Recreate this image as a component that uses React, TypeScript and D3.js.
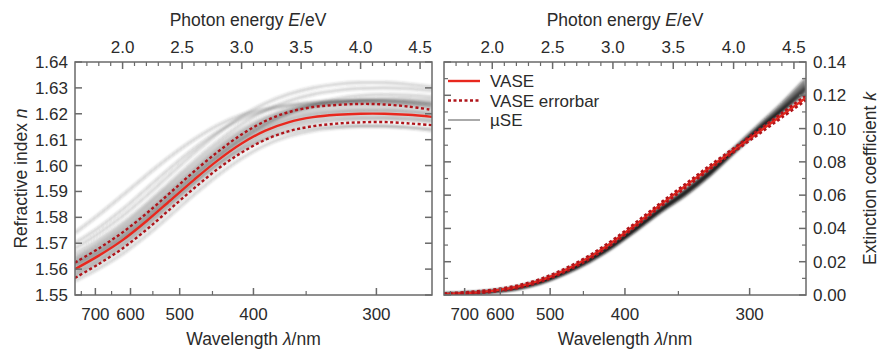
import * as d3 from "d3";

// photon energy grid (eV) shared by every curve
const energy = [1.6, 1.8, 2.0, 2.2, 2.4, 2.6, 2.8, 3.0, 3.2, 3.4, 3.6, 3.8, 4.0, 4.2, 4.4, 4.6];

// refractive index n
const nVase = [1.5600, 1.5652, 1.5712, 1.5785, 1.5865, 1.5945, 1.6020, 1.6085, 1.6135, 1.6168, 1.6187, 1.6196, 1.6200, 1.6200, 1.6196, 1.6188];
const nErrUpper = [1.5625, 1.5680, 1.5742, 1.5815, 1.5895, 1.5977, 1.6053, 1.6120, 1.6172, 1.6207, 1.6226, 1.6234, 1.6238, 1.6236, 1.6228, 1.6215];
const nErrLower = [1.5566, 1.5620, 1.5680, 1.5752, 1.5832, 1.5912, 1.5987, 1.6050, 1.6100, 1.6133, 1.6152, 1.6162, 1.6167, 1.6168, 1.6163, 1.6156];
const nMuSE = [
  [1.5620, 1.5672, 1.5733, 1.5806, 1.5886, 1.5966, 1.6041, 1.6106, 1.6156, 1.6189, 1.6208, 1.6218, 1.6222, 1.6222, 1.6218, 1.6210],
  [1.5585, 1.5636, 1.5696, 1.5769, 1.5849, 1.5930, 1.6005, 1.6070, 1.6120, 1.6153, 1.6172, 1.6181, 1.6185, 1.6185, 1.6181, 1.6173],
  [1.5630, 1.5685, 1.5748, 1.5822, 1.5902, 1.5982, 1.6058, 1.6124, 1.6176, 1.6212, 1.6233, 1.6244, 1.6250, 1.6251, 1.6248, 1.6241],
  [1.5700, 1.5760, 1.5830, 1.5910, 1.5990, 1.6065, 1.6130, 1.6180, 1.6212, 1.6230, 1.6240, 1.6245, 1.6247, 1.6245, 1.6240, 1.6232],
  [1.5660, 1.5715, 1.5778, 1.5853, 1.5935, 1.6017, 1.6093, 1.6160, 1.6212, 1.6250, 1.6275, 1.6290, 1.6298, 1.6300, 1.6297, 1.6290],
  [1.5555, 1.5603, 1.5660, 1.5730, 1.5808, 1.5888, 1.5963, 1.6028, 1.6079, 1.6114, 1.6135, 1.6146, 1.6151, 1.6152, 1.6149, 1.6142],
  [1.5575, 1.5630, 1.5693, 1.5768, 1.5850, 1.5933, 1.6010, 1.6077, 1.6128, 1.6162, 1.6182, 1.6192, 1.6196, 1.6196, 1.6191, 1.6182],
  [1.5740, 1.5810, 1.5885, 1.5962, 1.6035, 1.6100, 1.6155, 1.6195, 1.6220, 1.6235, 1.6245, 1.6250, 1.6252, 1.6250, 1.6245, 1.6238],
  [1.5640, 1.5695, 1.5758, 1.5833, 1.5913, 1.5992, 1.6066, 1.6130, 1.6179, 1.6211, 1.6229, 1.6238, 1.6242, 1.6241, 1.6236, 1.6227],
  [1.5610, 1.5660, 1.5718, 1.5790, 1.5870, 1.5952, 1.6030, 1.6100, 1.6158, 1.6203, 1.6236, 1.6258, 1.6270, 1.6274, 1.6272, 1.6265],
  [1.5590, 1.5645, 1.5707, 1.5780, 1.5858, 1.5935, 1.6005, 1.6062, 1.6103, 1.6130, 1.6145, 1.6152, 1.6154, 1.6152, 1.6146, 1.6136],
  [1.5680, 1.5738, 1.5805, 1.5883, 1.5966, 1.6048, 1.6124, 1.6190, 1.6240, 1.6276, 1.6300, 1.6314, 1.6320, 1.6320, 1.6314, 1.6304],
  [1.5612, 1.5663, 1.5723, 1.5796, 1.5876, 1.5957, 1.6032, 1.6097, 1.6147, 1.6180, 1.6199, 1.6208, 1.6212, 1.6212, 1.6207, 1.6199],
  [1.5628, 1.5681, 1.5743, 1.5816, 1.5897, 1.5977, 1.6052, 1.6117, 1.6167, 1.6200, 1.6219, 1.6229, 1.6234, 1.6234, 1.6230, 1.6222],
  [1.5572, 1.5622, 1.5681, 1.5753, 1.5833, 1.5914, 1.5990, 1.6056, 1.6107, 1.6141, 1.6162, 1.6173, 1.6178, 1.6179, 1.6175, 1.6168],
  [1.5645, 1.5702, 1.5767, 1.5843, 1.5924, 1.6004, 1.6078, 1.6141, 1.6188, 1.6219, 1.6237, 1.6247, 1.6252, 1.6252, 1.6248, 1.6240],
  [1.5618, 1.5670, 1.5731, 1.5805, 1.5886, 1.5967, 1.6043, 1.6110, 1.6163, 1.6202, 1.6228, 1.6244, 1.6254, 1.6258, 1.6258, 1.6254],
  [1.5600, 1.5654, 1.5716, 1.5790, 1.5871, 1.5952, 1.6027, 1.6091, 1.6140, 1.6173, 1.6193, 1.6204, 1.6209, 1.6210, 1.6206, 1.6198],
];

// extinction coefficient k
const kVase = [0.0005, 0.0012, 0.0025, 0.0048, 0.0088, 0.0148, 0.0225, 0.0320, 0.0430, 0.0545, 0.0655, 0.0765, 0.0870, 0.0975, 0.1080, 0.1185];
const kErrUpper = [0.0010, 0.0018, 0.0032, 0.0056, 0.0097, 0.0158, 0.0236, 0.0332, 0.0442, 0.0557, 0.0667, 0.0777, 0.0882, 0.0988, 0.1094, 0.1200];
const kErrLower = [0.0001, 0.0007, 0.0019, 0.0040, 0.0079, 0.0138, 0.0214, 0.0308, 0.0418, 0.0533, 0.0643, 0.0753, 0.0858, 0.0962, 0.1066, 0.1170];
const kMuSE = [
  [0.0004, 0.0010, 0.0021, 0.0040, 0.0076, 0.0132, 0.0205, 0.0295, 0.0400, 0.0510, 0.0610, 0.0725, 0.0860, 0.0990, 0.1110, 0.1240],
  [0.0004, 0.0011, 0.0022, 0.0042, 0.0080, 0.0138, 0.0212, 0.0302, 0.0410, 0.0522, 0.0625, 0.0740, 0.0868, 0.0995, 0.1120, 0.1255],
  [0.0003, 0.0009, 0.0019, 0.0037, 0.0072, 0.0127, 0.0198, 0.0288, 0.0393, 0.0502, 0.0600, 0.0718, 0.0855, 0.0985, 0.1105, 0.1230],
  [0.0004, 0.0010, 0.0021, 0.0041, 0.0078, 0.0135, 0.0208, 0.0298, 0.0405, 0.0515, 0.0618, 0.0735, 0.0870, 0.1005, 0.1135, 0.1280],
  [0.0005, 0.0012, 0.0024, 0.0046, 0.0085, 0.0144, 0.0220, 0.0312, 0.0420, 0.0532, 0.0635, 0.0750, 0.0870, 0.0985, 0.1100, 0.1215],
  [0.0003, 0.0009, 0.0020, 0.0039, 0.0074, 0.0130, 0.0202, 0.0292, 0.0398, 0.0507, 0.0606, 0.0722, 0.0858, 0.0992, 0.1122, 0.1265],
  [0.0004, 0.0011, 0.0023, 0.0043, 0.0081, 0.0140, 0.0215, 0.0305, 0.0412, 0.0520, 0.0622, 0.0742, 0.0880, 0.1015, 0.1150, 0.1300],
  [0.0004, 0.0010, 0.0021, 0.0040, 0.0077, 0.0133, 0.0206, 0.0296, 0.0402, 0.0512, 0.0614, 0.0730, 0.0862, 0.0988, 0.1112, 0.1245],
];

// ticks
const energyMajor = [2.0, 2.5, 3.0, 3.5, 4.0, 4.5];
const energyMinor = [1.7, 1.8, 1.9, 2.1, 2.2, 2.3, 2.4, 2.6, 2.7, 2.8, 2.9, 3.1, 3.2, 3.3, 3.4, 3.6, 3.7, 3.8, 3.9, 4.1, 4.2, 4.3, 4.4];
const wavelengthMajor = [700, 600, 500, 400, 300];
const wavelengthMinor = [750, 650, 550, 450, 350];
const nTicks = [1.55, 1.56, 1.57, 1.58, 1.59, 1.6, 1.61, 1.62, 1.63, 1.64];
const kMajor = [0, 0.02, 0.04, 0.06, 0.08, 0.1, 0.12, 0.14];
const kMinor = [0.01, 0.03, 0.05, 0.07, 0.09, 0.11, 0.13];

const legendItems = ["VASE", "VASE errorbar", "µSE"];

const FONT = "'Liberation Sans', Arial, sans-serif";
const TEXT = "#2b2b2b";
const AXIS = "#6a6a6a";
const RED = "#e8281e";
const DARKRED = "#b0141a";
const TOP = 62;
const BOTTOM = 295;

function Panel({ id, x0, x1, yDomain, yMajor, yMinor, nmu, muColor, muOpacity, vase, upper, lower, side, titleX, yTitle, yVar, legend }: any) {
  const x = d3.scaleLinear().domain([1.6, 4.6]).range([x0, x1]);
  const y = d3.scaleLinear().domain(yDomain).range([BOTTOM, TOP]);
  const line = d3
    .line<number>()
    .x((_, i) => x(energy[i]))
    .y((d) => y(d))
    .curve(d3.curveCatmullRom);
  const cx = (x0 + x1) / 2;
  const cy = (TOP + BOTTOM) / 2;
  const wl = (l: number) => x(1239.84 / l);

  return (
    <g>
      <defs>
        <clipPath id={id}>
          <rect x={x0} y={TOP} width={x1 - x0} height={BOTTOM - TOP} />
        </clipPath>
        <filter id={`${id}-soft`} x="-5%" y="-5%" width="110%" height="110%">
          <feGaussianBlur stdDeviation={0.8} />
        </filter>
      </defs>
      <g clipPath={`url(#${id})`}>
        <g filter={`url(#${id}-soft)`}>
          {nmu.map((c: number[], i: number) => (
            <path key={i} d={line(c) ?? ""} fill="none" stroke={muColor} strokeOpacity={muOpacity} strokeWidth={3.2} />
          ))}
        </g>
        <path d={line(vase) ?? ""} fill="none" stroke={RED} strokeWidth={2.4} />
        <path d={line(upper) ?? ""} fill="none" stroke={DARKRED} strokeWidth={2.4} strokeDasharray="3 2.5" />
        <path d={line(lower) ?? ""} fill="none" stroke={DARKRED} strokeWidth={2.4} strokeDasharray="3 2.5" />
      </g>
      <rect x={x0} y={TOP} width={x1 - x0} height={BOTTOM - TOP} fill="none" stroke={AXIS} strokeWidth={1.5} />

      {/* top energy axis */}
      {energyMajor.map((e) => (
        <g key={`em${e}`}>
          <line x1={x(e)} x2={x(e)} y1={TOP} y2={TOP + 7} stroke={AXIS} strokeWidth={1.5} />
          <text x={x(e)} y={53} textAnchor="middle" fontSize={17} fill={TEXT}>{e.toFixed(1)}</text>
        </g>
      ))}
      {energyMinor.map((e) => (
        <line key={`en${e}`} x1={x(e)} x2={x(e)} y1={TOP} y2={TOP + 4} stroke={AXIS} strokeWidth={1.2} />
      ))}
      <text x={titleX} y={26} textAnchor="middle" fontSize={17.5} fill={TEXT}>
        Photon energy <tspan fontStyle="italic">E</tspan>/eV
      </text>

      {/* bottom wavelength axis */}
      {wavelengthMajor.map((l) => (
        <g key={`wm${l}`}>
          <line x1={wl(l)} x2={wl(l)} y1={BOTTOM} y2={BOTTOM - 7} stroke={AXIS} strokeWidth={1.5} />
          <text x={wl(l)} y={320} textAnchor="middle" fontSize={17} fill={TEXT}>{l}</text>
        </g>
      ))}
      {wavelengthMinor.map((l) => (
        <line key={`wn${l}`} x1={wl(l)} x2={wl(l)} y1={BOTTOM} y2={BOTTOM - 4} stroke={AXIS} strokeWidth={1.2} />
      ))}
      <text x={cx} y={345} textAnchor="middle" fontSize={17.5} fill={TEXT}>
        Wavelength <tspan fontStyle="italic">λ</tspan>/nm
      </text>

      {/* y axis, ticks on both edges */}
      {yMajor.map((v: number) => (
        <g key={`ym${v}`}>
          <line x1={x0} x2={x0 + 7} y1={y(v)} y2={y(v)} stroke={AXIS} strokeWidth={1.5} />
          <line x1={x1} x2={x1 - 7} y1={y(v)} y2={y(v)} stroke={AXIS} strokeWidth={1.5} />
          <text
            x={side === "left" ? x0 - 7 : x1 + 7}
            y={y(v) + 6}
            textAnchor={side === "left" ? "end" : "start"}
            fontSize={17}
            fill={TEXT}
          >
            {v.toFixed(2)}
          </text>
        </g>
      ))}
      {yMinor.map((v: number) => (
        <g key={`yn${v}`}>
          <line x1={x0} x2={x0 + 4} y1={y(v)} y2={y(v)} stroke={AXIS} strokeWidth={1.2} />
          <line x1={x1} x2={x1 - 4} y1={y(v)} y2={y(v)} stroke={AXIS} strokeWidth={1.2} />
        </g>
      ))}
      <text
        transform={`translate(${side === "left" ? 27 : 876},${cy}) rotate(-90)`}
        textAnchor="middle"
        fontSize={17.5}
        fill={TEXT}
      >
        {yTitle} <tspan fontStyle="italic">{yVar}</tspan>
      </text>

      {legend &&
        legendItems.map((name, i) => {
          const ly = 81 + i * 19.5;
          return (
            <g key={name}>
              <line
                x1={x0 + 4}
                x2={x0 + 36}
                y1={ly}
                y2={ly}
                stroke={i === 0 ? RED : i === 1 ? DARKRED : "#aaaaaa"}
                strokeWidth={i === 2 ? 2 : 2.4}
                strokeDasharray={i === 1 ? "3 2.5" : undefined}
              />
              <text x={x0 + 46} y={ly + 6} fontSize={17} fill={TEXT}>{name}</text>
            </g>
          );
        })}
    </g>
  );
}

export default function App() {
  return (
    <svg
      width={880}
      height={351}
      style={{ position: "absolute", left: 0, top: 0, background: "#fff" }}
      fontFamily={FONT}
    >
      <Panel
        id="clipN"
        x0={75}
        x1={432}
        yDomain={[1.55, 1.64]}
        yMajor={nTicks}
        yMinor={[]}
        nmu={nMuSE}
        muColor="#333333"
        muOpacity={0.2}
        vase={nVase}
        upper={nErrUpper}
        lower={nErrLower}
        side="left"
        titleX={248}
        yTitle="Refractive index"
        yVar="n"
        legend={false}
      />
      <Panel
        id="clipK"
        x0={444}
        x1={806}
        yDomain={[0, 0.14]}
        yMajor={kMajor}
        yMinor={kMinor}
        nmu={kMuSE}
        muColor="#111111"
        muOpacity={0.4}
        vase={kVase}
        upper={kErrUpper}
        lower={kErrLower}
        side="right"
        titleX={625}
        yTitle="Extinction coefficient"
        yVar="k"
        legend={true}
      />
    </svg>
  );
}
